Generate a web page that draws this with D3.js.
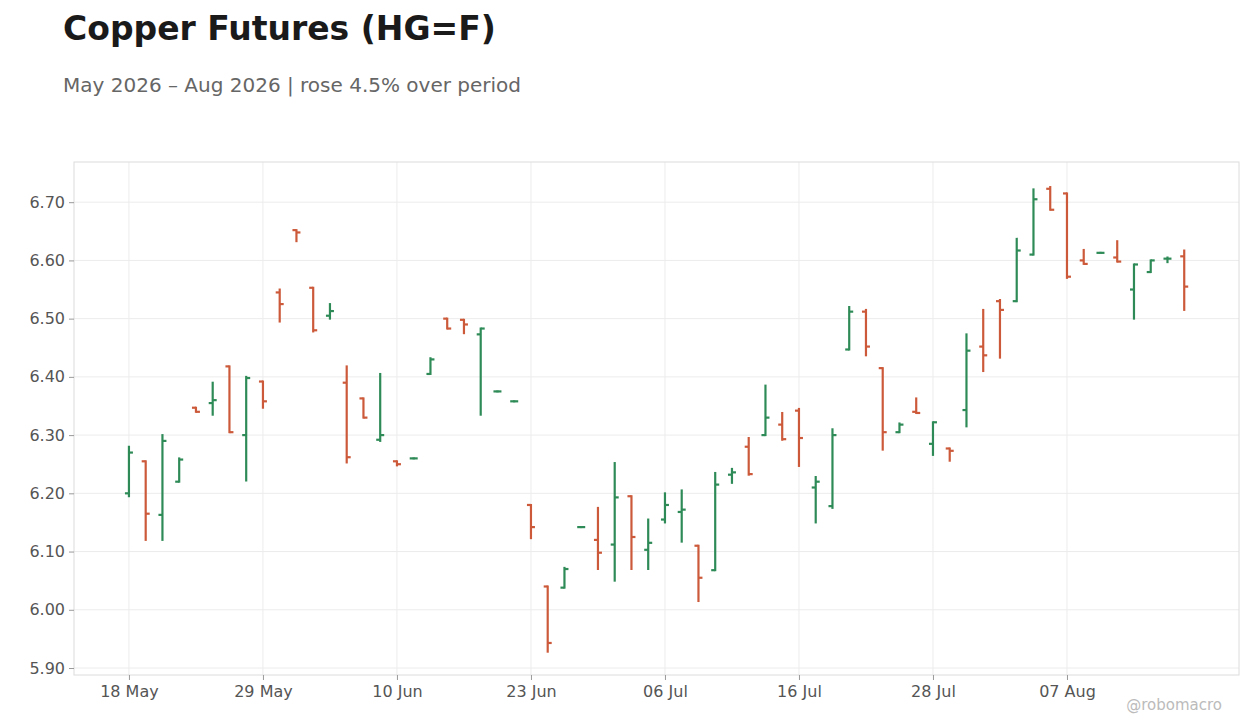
<!DOCTYPE html>
<html><head><meta charset="utf-8">
<script src="https://cdn.jsdelivr.net/npm/d3@7"></script>
<style>
body { margin: 0; background: #fff; font-family: "DejaVu Sans", sans-serif; }
</style></head>
<body><svg id="chart" width="1260" height="728"></svg>
<script>
// trading days, 18 May – 18 Aug 2026
const dates = ["2026-05-18","2026-05-19","2026-05-20","2026-05-21","2026-05-22","2026-05-26","2026-05-27","2026-05-28",
  "2026-05-29","2026-06-01","2026-06-02","2026-06-03","2026-06-04","2026-06-05","2026-06-08","2026-06-09",
  "2026-06-10","2026-06-11","2026-06-12","2026-06-15","2026-06-16","2026-06-17","2026-06-18","2026-06-22",
  "2026-06-23","2026-06-24","2026-06-25","2026-06-26","2026-06-29","2026-06-30","2026-07-01","2026-07-02",
  "2026-07-06","2026-07-07","2026-07-08","2026-07-09","2026-07-10","2026-07-13","2026-07-14","2026-07-15",
  "2026-07-16","2026-07-17","2026-07-20","2026-07-21","2026-07-22","2026-07-23","2026-07-24","2026-07-27",
  "2026-07-28","2026-07-29","2026-07-30","2026-07-31","2026-08-03","2026-08-04","2026-08-05","2026-08-06",
  "2026-08-07","2026-08-10","2026-08-11","2026-08-12","2026-08-13","2026-08-14","2026-08-17","2026-08-18"];
const open  = [6.200,6.255,6.163,6.220,6.347,6.355,6.418,6.300,6.392,6.545,6.652,6.553,6.505,6.390,6.363,6.292,
  6.255,6.260,6.405,6.500,6.498,6.473,6.375,6.358,6.180,6.040,6.038,6.142,6.120,6.112,6.195,6.103,
  6.155,6.168,6.110,6.068,6.232,6.280,6.300,6.318,6.342,6.210,6.178,6.447,6.512,6.415,6.305,6.340,
  6.285,6.277,6.343,6.452,6.530,6.530,6.610,6.723,6.715,6.600,6.613,6.605,6.550,6.580,6.603,6.607];
const high  = [6.280,6.255,6.300,6.260,6.347,6.390,6.418,6.400,6.392,6.550,6.652,6.553,6.525,6.418,6.363,6.405,
  6.255,6.260,6.432,6.500,6.498,6.483,6.375,6.358,6.180,6.040,6.072,6.142,6.175,6.252,6.195,6.155,
  6.200,6.205,6.110,6.235,6.242,6.295,6.385,6.338,6.345,6.228,6.310,6.520,6.515,6.415,6.320,6.363,
  6.322,6.277,6.473,6.515,6.532,6.637,6.722,6.726,6.715,6.618,6.613,6.633,6.593,6.600,6.605,6.617];
const low   = [6.195,6.120,6.120,6.220,6.340,6.335,6.305,6.222,6.347,6.495,6.633,6.478,6.500,6.253,6.330,6.290,
  6.248,6.260,6.405,6.483,6.475,6.335,6.375,6.358,6.123,5.928,6.038,6.142,6.070,6.050,6.070,6.070,
  6.150,6.117,6.015,6.068,6.218,6.232,6.300,6.292,6.247,6.150,6.175,6.447,6.437,6.275,6.305,6.338,
  6.266,6.256,6.315,6.410,6.433,6.530,6.610,6.687,6.570,6.594,6.613,6.598,6.500,6.580,6.597,6.515];
const close = [6.270,6.165,6.290,6.258,6.340,6.360,6.305,6.398,6.358,6.525,6.648,6.480,6.513,6.262,6.330,6.300,
  6.250,6.260,6.430,6.483,6.490,6.483,6.375,6.358,6.142,5.943,6.070,6.142,6.098,6.193,6.125,6.115,
  6.180,6.172,6.055,6.215,6.236,6.233,6.330,6.293,6.295,6.220,6.300,6.512,6.452,6.305,6.318,6.338,
  6.322,6.273,6.445,6.437,6.515,6.617,6.705,6.687,6.572,6.594,6.613,6.598,6.593,6.600,6.603,6.555];
const yTicks = [5.9,6.0,6.1,6.2,6.3,6.4,6.5,6.6,6.7];
const xTickIdx = [0,8,16,24,32,40,48,56];

const UP = "#2e8b57", DOWN = "#cc5a3a";
const svg = d3.select("#chart");
const m = { left: 74, right: 1239, top: 162, bottom: 675 };

const x = d3.scaleLinear().domain([-3.28, 66.27]).range([m.left, m.right]);
const y = d3.scaleLinear().domain([5.888, 6.769]).range([m.bottom, m.top]);
const fmtTick = d3.utcFormat("%d %b");

svg.append("text").attr("x", 63).attr("y", 40).attr("font-size", 33).attr("font-weight", "bold")
  .attr("fill", "#1a1a1a").text("Copper Futures (HG=F)");
svg.append("text").attr("x", 63).attr("y", 92).attr("font-size", 20).attr("fill", "#666")
  .text("May 2026 – Aug 2026 | rose 4.5% over period");

// grid
svg.append("g").selectAll("line").data(yTicks).join("line")
  .attr("x1", m.left).attr("x2", m.right).attr("y1", d => y(d)).attr("y2", d => y(d))
  .attr("stroke", "#ececec");
svg.append("g").selectAll("line").data(xTickIdx).join("line")
  .attr("x1", d => x(d)).attr("x2", d => x(d)).attr("y1", m.top).attr("y2", m.bottom)
  .attr("stroke", "#ececec");
svg.append("rect").attr("x", m.left).attr("y", m.top).attr("width", m.right - m.left)
  .attr("height", m.bottom - m.top).attr("fill", "none").attr("stroke", "#dcdcdc");

const yAxis = svg.append("g").attr("transform", `translate(${m.left},0)`)
  .call(d3.axisLeft(y).tickValues(yTicks).tickFormat(d3.format(".2f")).tickSize(5).tickPadding(4));
const xAxis = svg.append("g").attr("transform", `translate(0,${m.bottom})`)
  .call(d3.axisBottom(x).tickValues(xTickIdx).tickFormat(i => fmtTick(new Date(dates[i] + "T00:00:00Z")))
    .tickSize(5).tickPadding(6));
[yAxis, xAxis].forEach(g => {
  g.select(".domain").remove();
  g.selectAll("line").attr("stroke", "#999");
  g.selectAll("text").attr("font-size", 16).attr("fill", "#555").attr("font-family", "DejaVu Sans");
});

// OHLC bars
const bars = svg.append("g").selectAll("g").data(dates.map((d, i) => i)).join("g")
  .attr("stroke", i => close[i] >= open[i] ? UP : DOWN).attr("stroke-width", 2.2);
bars.append("line").attr("x1", i => x(i)).attr("x2", i => x(i))
  .attr("y1", i => y(high[i]) - 1).attr("y2", i => y(low[i]) + 1);
bars.append("line").attr("x1", i => x(i) - 4).attr("x2", i => x(i))
  .attr("y1", i => y(open[i])).attr("y2", i => y(open[i]));
bars.append("line").attr("x1", i => x(i)).attr("x2", i => x(i) + 4)
  .attr("y1", i => y(close[i])).attr("y2", i => y(close[i]));

svg.append("text").attr("x", 1222).attr("y", 710).attr("text-anchor", "end")
  .attr("font-size", 15).attr("fill", "#bbb").text("@robomacro");
</script></body></html>
